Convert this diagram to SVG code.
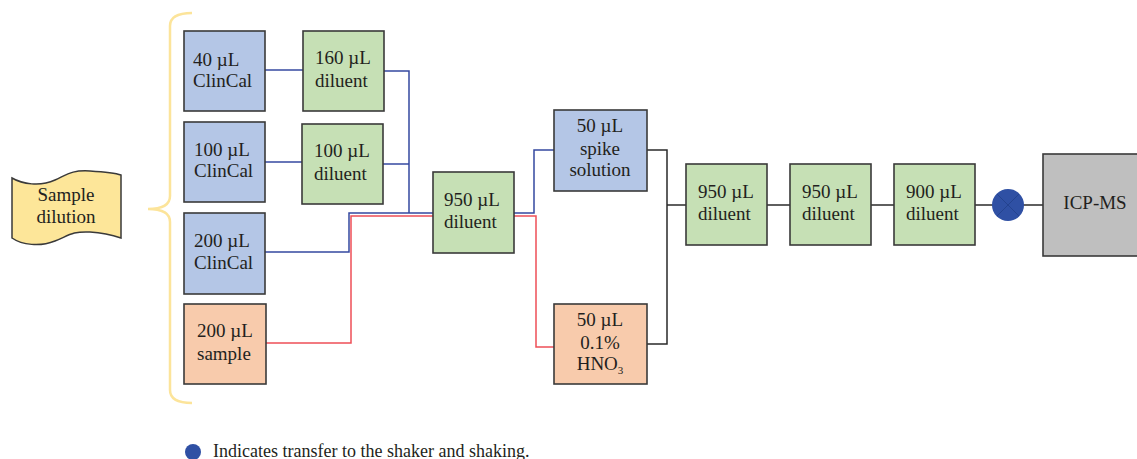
<svg xmlns="http://www.w3.org/2000/svg" width="1137" height="459" viewBox="0 0 1137 459">
<style>
text{font-family:"Liberation Serif","Times New Roman",serif;font-size:19px;fill:#231f20}
.box{stroke:#3a3a3a;stroke-width:1.6}
.blue{fill:#b4c6e6}
.green{fill:#c6e0b5}
.orange{fill:#f8cbac}
.gray{fill:#bfbfbf}
.lb{fill:none;stroke:#3548a0;stroke-width:1.5}
.lr{fill:none;stroke:#ee4f57;stroke-width:1.5}
.lk{fill:none;stroke:#2a2a2a;stroke-width:1.5}
.c{text-anchor:middle}
</style>
<rect width="1137" height="459" fill="#ffffff"/>
<g id="brace">
<path d="M192,13 Q170,13 170,26 V196 Q170,209 148,209 Q170,209 170,222 V390 Q170,403 192,403" fill="none" stroke="#fce49a" stroke-width="2.5"/>
</g>
<g id="sample-dilution">
<path d="M12,178 C22,184 40,187 55,180 C68,174 72,170 90,171 C105,172 115,173 121,175 V238 C115,236 105,233 90,232 C72,231 68,236 55,241 C40,247 22,245 12,238 Z" fill="#fde699" stroke="#3a3a3a" stroke-width="1.5"/>
<text x="66" y="201" class="c">Sample</text>
<text x="66" y="223" class="c">dilution</text>
</g>
<g id="connectors">
<path class="lb" d="M265,70 H303"/>
<path class="lb" d="M265,162 H302"/>
<path class="lb" d="M384,71 H409 V213"/>
<path class="lb" d="M383,164 H409"/>
<path class="lb" d="M265,252 H349 V213 H433"/>
<path class="lr" d="M266,343 H351 V216 H433"/>
<path class="lb" d="M514,213 H534 V150 H554"/>
<path class="lr" d="M514,216 H536 V347 H554"/>
<path class="lk" d="M647,150 H667 V344 H647"/>
<path class="lk" d="M667,205 H686"/>
<path class="lk" d="M767,205 H790"/>
<path class="lk" d="M871,205 H894"/>
<path class="lk" d="M975,205 H1043"/>
</g>
<g id="n40clincal"><rect class="box blue" x="184" y="31" width="81" height="80"/><text x="193" y="66">40 µL</text><text x="193" y="87">ClinCal</text></g>
<g id="n100clincal"><rect class="box blue" x="184" y="122" width="81" height="80"/><text x="194" y="156">100 µL</text><text x="194" y="177">ClinCal</text></g>
<g id="n200clincal"><rect class="box blue" x="184" y="213" width="81" height="81"/><text x="194" y="247">200 µL</text><text x="194" y="269">ClinCal</text></g>
<g id="n200sample"><rect class="box orange" x="184" y="304" width="82" height="80"/><text x="197" y="337">200 µL</text><text x="197" y="360">sample</text></g>
<g id="n160diluent"><rect class="box green" x="303" y="31" width="81" height="80"/><text x="315" y="64">160 µL</text><text x="315" y="87">diluent</text></g>
<g id="n100diluent"><rect class="box green" x="302" y="124" width="81" height="80"/><text x="314" y="157">100 µL</text><text x="314" y="180">diluent</text></g>
<g id="n950diluent"><rect class="box green" x="433" y="172" width="81" height="81"/><text x="444" y="206">950 µL</text><text x="444" y="228">diluent</text></g>
<g id="spike"><rect class="box blue" x="554" y="110" width="93" height="81"/><text x="600" y="132" class="c">50 µL</text><text x="600" y="155" class="c">spike</text><text x="600" y="176" class="c">solution</text></g>
<g id="hno3"><rect class="box orange" x="554" y="304" width="93" height="80"/><text x="600" y="326" class="c">50 µL</text><text x="600" y="349" class="c">0.1%</text><text x="600" y="370" class="c">HNO<tspan font-size="11" dy="4">3</tspan></text></g>
<g id="d950a"><rect class="box green" x="686" y="164" width="81" height="81"/><text x="698" y="198">950 µL</text><text x="698" y="220">diluent</text></g>
<g id="d950b"><rect class="box green" x="790" y="164" width="81" height="81"/><text x="802" y="198">950 µL</text><text x="802" y="220">diluent</text></g>
<g id="d900"><rect class="box green" x="894" y="164" width="81" height="81"/><text x="906" y="198">900 µL</text><text x="906" y="220">diluent</text></g>
<g id="shaker"><circle cx="1008" cy="205" r="16" fill="#2f50a4"/><path d="M997,194 L1019,216 M1019,194 L997,216" stroke="#24438f" stroke-width="1"/></g>
<g id="icpms"><rect class="box gray" x="1043" y="154" width="100" height="102"/><text x="1095" y="209" class="c">ICP-MS</text></g>
<g id="legend"><circle cx="193" cy="452" r="8" fill="#2f50a4"/><text x="213" y="457" style="font-size:18px">Indicates transfer to the shaker and shaking.</text></g>
</svg>
